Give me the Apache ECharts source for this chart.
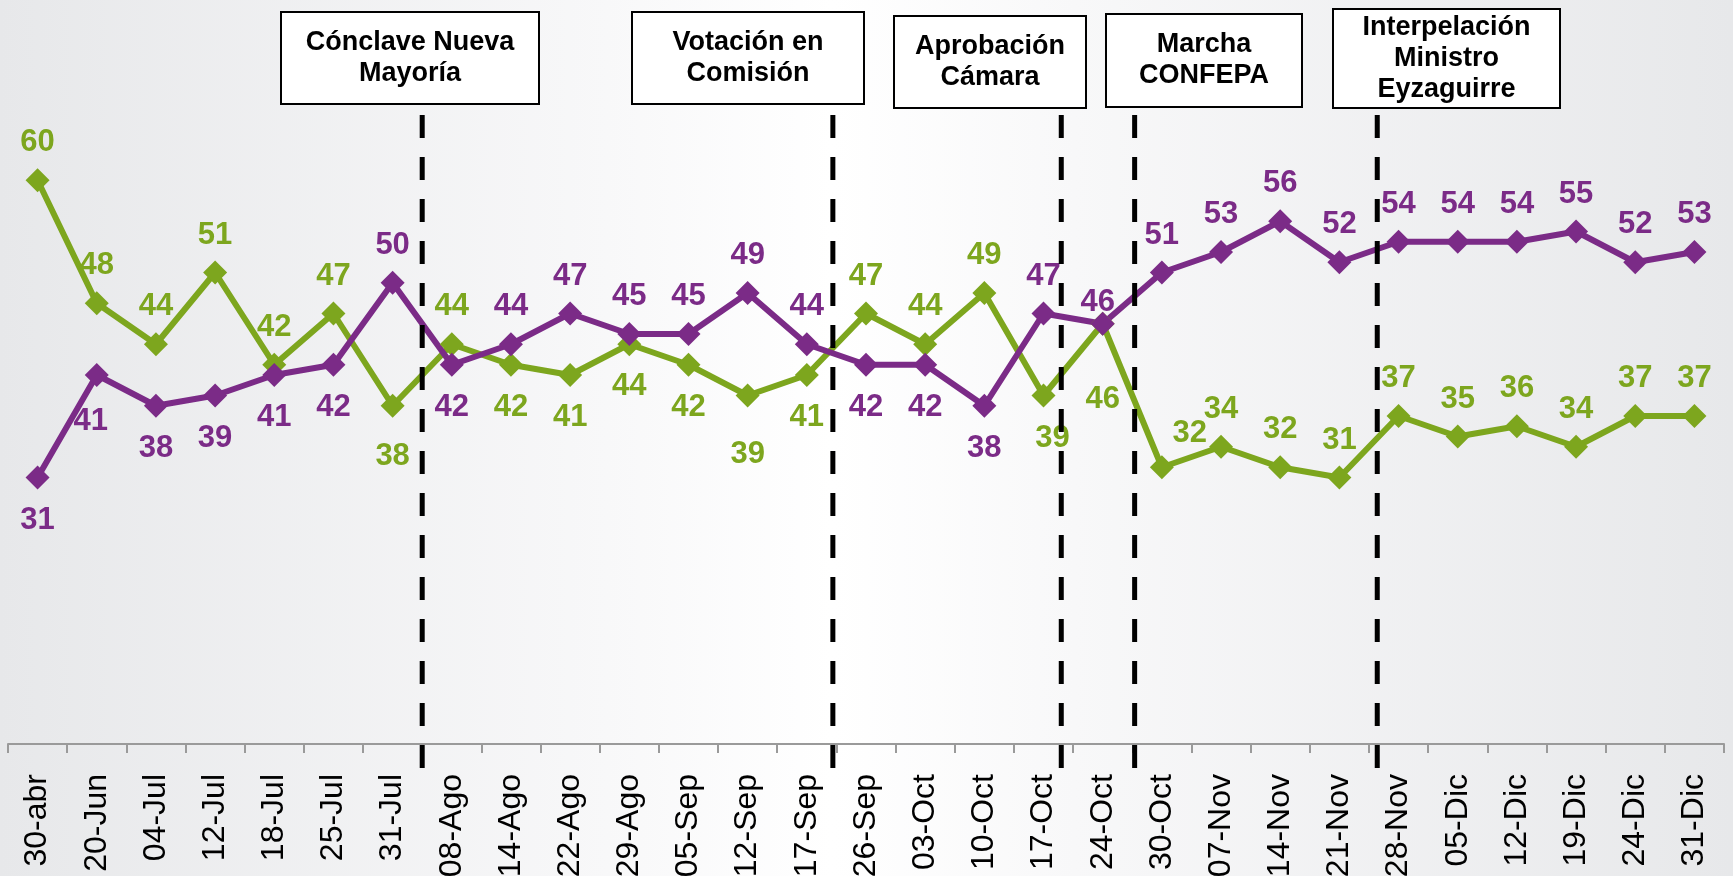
<!DOCTYPE html>
<html>
<head>
<meta charset="utf-8">
<script src="https://cdn.jsdelivr.net/npm/echarts@6/dist/echarts.min.js"></script>
<style>
  html, body { margin: 0; padding: 0; }
  #main { width: 1733px; height: 876px; }
</style>
</head>
<body>
<div id="main"></div>
<script>
var fechas = ["30-abr", "20-Jun", "04-Jul", "12-Jul", "18-Jul", "25-Jul", "31-Jul", "08-Ago", "14-Ago", "22-Ago",
  "29-Ago", "05-Sep", "12-Sep", "17-Sep", "26-Sep", "03-Oct", "10-Oct", "17-Oct", "24-Oct", "30-Oct",
  "07-Nov", "14-Nov", "21-Nov", "28-Nov", "05-Dic", "12-Dic", "19-Dic", "24-Dic", "31-Dic"];

// serie verde y serie morada
var verde = [60, 48, 44, 51, 42, 47, 38, 44, 42, 41, 44, 42, 39, 41, 47, 44, 49, 39, 46, 32, 34, 32, 31, 37, 35, 36, 34, 37, 37];
var morado = [31, 41, 38, 39, 41, 42, 50, 42, 44, 47, 45, 45, 49, 44, 42, 42, 38, 47, 46, 51, 53, 56, 52, 54, 54, 54, 55, 52, 53];

// lado de cada etiqueta: t = arriba, b = abajo
var ladoVerde = "ttttttbtbbbbbbtttbbtttttttttt";
var ladoMorado = "bbbbbbtbttttttbbbtttttttttttt";

// pequeños ajustes de etiquetas puestas a mano en el original
var ajusteVerde = { 6: [0, 8], 12: [0, 16], 17: [9, 0], 18: [0, 33], 19: [28, 4] };
var ajusteMorado = { 1: [-6, 4], 18: [-5, 16] };

// hitos: posicion (en indice de categoria) de cada linea punteada
var hitos = [6.5, 13.44, 17.3, 18.54, 22.64];
var hitosTexto = ["Cónclave Nueva\nMayoría", "Votación en\nComisión", "Aprobación\nCámara", "Marcha\nCONFEPA", "Interpelación\nMinistro\nEyzaguirre"];

var VERDE = "#7DA61E";
var MORADO = "#7B2B87";
var FONT = "'Liberation Sans', Arial, sans-serif";

function armarDatos(valores, lados, ajustes) {
  return valores.map(function (v, i) {
    var arriba = lados.charAt(i) === "t";
    return {
      value: v,
      label: {
        position: arriba ? "top" : "bottom",
        distance: arriba ? 10 : 15,
        offset: ajustes[i] || [0, 0]
      }
    };
  });
}

// cajas de texto de los hitos [izq, arriba, ancho, alto]
var cajas = [
  [280, 11, 258, 92],
  [631, 11, 232, 92],
  [893, 15, 192, 92],
  [1105, 13, 196, 93],
  [1332, 8, 227, 99]
];

var myChart = echarts.init(document.getElementById("main"));

var option = {
  backgroundColor: {
    type: "linear", x: 0, y: 0, x2: 1, y2: 0,
    colorStops: [
      { offset: 0, color: "#e7e8ea" },
      { offset: 0.35, color: "#f8f8f9" },
      { offset: 0.48, color: "#ffffff" },
      { offset: 0.62, color: "#f8f8f9" },
      { offset: 1, color: "#e7e8ea" }
    ]
  },
  animation: false,
  grid: { left: 8, right: 9, top: 129, bottom: 132, outerBoundsMode: "none" },
  xAxis: [
    {
      type: "category",
      data: fechas,
      boundaryGap: true,
      axisLine: { lineStyle: { color: "#9a9a9a", width: 2 } },
      axisTick: { show: true, length: 9, lineStyle: { color: "#9a9a9a", width: 2 } },
      axisLabel: { rotate: 90, margin: 30, fontSize: 32, color: "#000", fontFamily: FONT, interval: 0 }
    },
    { type: "value", min: -0.5, max: 28.5, show: false }
  ],
  yAxis: { type: "value", min: 5, max: 65, show: false, splitLine: { show: false } },
  series: [
    {
      name: "verde",
      type: "line",
      data: armarDatos(verde, ladoVerde, ajusteVerde),
      symbol: "diamond",
      symbolSize: 24,
      lineStyle: { color: VERDE, width: 6 },
      itemStyle: { color: VERDE },
      label: { show: true, color: VERDE, fontSize: 31, fontWeight: "bold", fontFamily: FONT }
    },
    {
      name: "morado",
      type: "line",
      data: armarDatos(morado, ladoMorado, ajusteMorado),
      symbol: "diamond",
      symbolSize: 24,
      lineStyle: { color: MORADO, width: 6 },
      itemStyle: { color: MORADO },
      label: { show: true, color: MORADO, fontSize: 31, fontWeight: "bold", fontFamily: FONT }
    },
    {
      name: "hitos",
      type: "custom",
      xAxisIndex: 1,
      yAxisIndex: 0,
      clip: false,
      z: 10,
      data: hitos.map(function (h) { return [h]; }),
      renderItem: function (params, api) {
        var x = api.coord([api.value(0), 5])[0];
        return {
          type: "line",
          shape: { x1: x, y1: 115, x2: x, y2: 777 },
          style: { stroke: "#000", lineWidth: 5, lineDash: [23, 19] }
        };
      }
    }
  ],
  graphic: cajas.map(function (c, i) {
    return {
      type: "group",
      left: c[0],
      top: c[1],
      z: 20,
      children: [
        { type: "rect", shape: { width: c[2], height: c[3] }, style: { fill: "#fff", stroke: "#000", lineWidth: 2 } },
        {
          type: "text",
          x: c[2] / 2,
          y: c[3] / 2,
          style: {
            text: hitosTexto[i], align: "center", verticalAlign: "middle",
            font: "bold 27px " + FONT, lineHeight: 31, fill: "#000"
          }
        }
      ]
    };
  })
};

myChart.setOption(option);
</script>
</body>
</html>
